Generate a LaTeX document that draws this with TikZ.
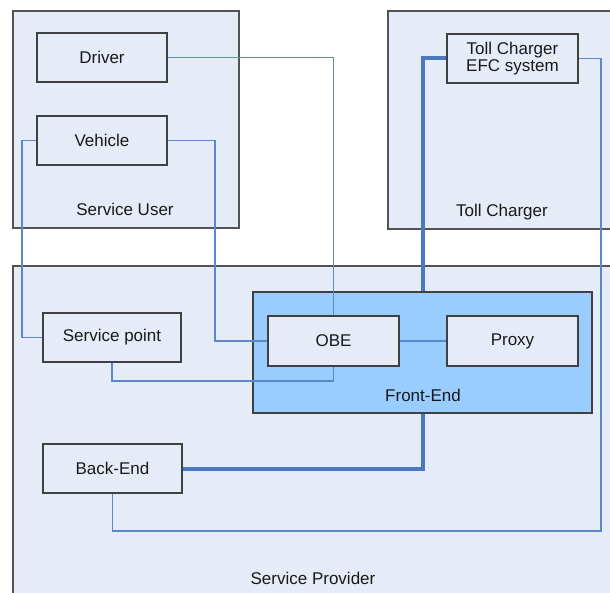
\documentclass[tikz,border=0pt]{standalone}
\usepackage{fontspec}
\setmainfont{Liberation Sans}
\definecolor{boxfill}{HTML}{E6ECF7}
\definecolor{fefill}{HTML}{99CCFF}
\definecolor{wire}{HTML}{5B87CC}
\definecolor{thickwire}{HTML}{4A78C4}
\definecolor{border}{HTML}{404040}
\begin{document}
\begin{tikzpicture}[x=1pt,y=-1pt,
  every node/.style={font=\fontsize{17}{17}\selectfont, text=black!90},
  container/.style={draw=border!90, line width=1.3pt, fill=boxfill, inner sep=0pt},
  frontend/.style={draw=border, line width=1.3pt, fill=fefill, inner sep=0pt},
  unit/.style={draw=border, line width=1.2pt, fill=boxfill, inner sep=0pt},
  thinwire/.style={draw=wire, line width=1.2pt},
  thickwire/.style={draw=thickwire, line width=4pt},
  caption/.style={inner sep=0pt}
]
\useasboundingbox (0,0) rectangle (610,593);
\fill[white] (0,0) rectangle (610,593);
% containers
\node[container, minimum width=226pt, minimum height=217pt] (user) at (126,119.5) {};
\node[container, minimum width=226pt, minimum height=218pt] (toll) at (501,120) {};
\node[container, minimum width=604pt, minimum height=340pt] (prov) at (315,436) {};
\node[frontend, minimum width=339pt, minimum height=121pt] (fe) at (422.5,352.5) {};
% captions
\node[caption] (userlbl) at (125,209) {Service User};
\node[caption] (tolllbl) at (502,212) {Toll Charger};
\node[caption] (felbl) at (423,395) {Front-End};
\node[caption] (provlbl) at (313,578) {Service Provider};
% units
\node[unit, minimum width=130pt, minimum height=49pt] (driver) at (102,57.5) {Driver};
\node[unit, minimum width=130pt, minimum height=49pt] (vehicle) at (102,140.5) {Vehicle};
\node[unit, minimum width=131pt, minimum height=49pt, align=center, font=\fontsize{17}{16.5}\selectfont] (efc) at (512.5,58.5) {Toll Charger\\EFC system};
\node[unit, minimum width=138pt, minimum height=49pt] (sp) at (112,337.5) {Service point};
\node[unit, minimum width=131pt, minimum height=50pt] (obe) at (333.5,341) {OBE};
\node[unit, minimum width=131pt, minimum height=50pt] (proxy) at (512.5,341) {Proxy};
\node[unit, minimum width=139pt, minimum height=49pt] (be) at (112.5,468.5) {Back-End};
% wire bend points
\coordinate (vl) at (22,140.5);
\coordinate (vr) at (215,140.5);
\coordinate (spb) at (112,381);
\coordinate (rr) at (601,58.5);
\coordinate (bb) at (601,531);
% wires
\draw[thinwire] (driver.east) -| (obe.north);
\draw[thinwire] (vehicle.west) -- (vl) |- (sp.west);
\draw[thinwire] (vehicle.east) -- (vr) |- (obe.west);
\draw[thinwire] (sp.south) |- (spb) -| (obe.south);
\draw[thinwire] (obe.east) -- (proxy.west);
\draw[thinwire] (efc.east) -- (rr) -- (bb) -| (be.south);
\draw[thickwire] (efc.west) -| (fe.north);
\draw[thickwire] (fe.south) |- (be.east);
\end{tikzpicture}
\end{document}
